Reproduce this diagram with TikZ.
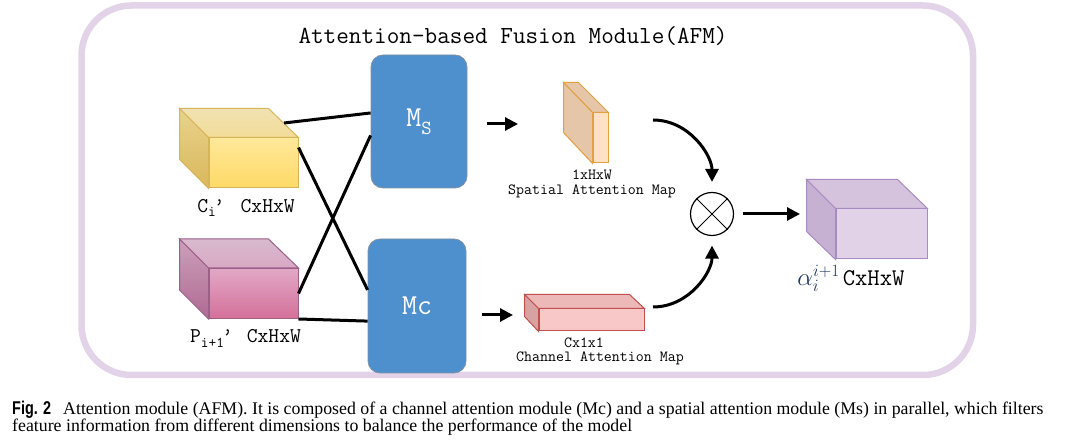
\documentclass[tikz,border=0pt]{standalone}
\usepackage{fontspec}
\usepackage{tikz}
\usetikzlibrary{arrows.meta,calc}
\setmainfont{Liberation Serif}
\newfontfamily\figfont[FakeStretch=0.78]{Liberation Sans}
\definecolor{framecol}{HTML}{E2D3E8}
\definecolor{modblue}{HTML}{4E8FCE}
\definecolor{modgray}{HTML}{8591A0}
\definecolor{yborder}{HTML}{D6B458}
\definecolor{ytop1}{HTML}{F0E2B2}
\definecolor{ytop2}{HTML}{F2DC98}
\definecolor{yfront1}{HTML}{FFE89A}
\definecolor{yfront2}{HTML}{FDD966}
\definecolor{yside1}{HTML}{EAD28E}
\definecolor{yside2}{HTML}{D9B85A}
\definecolor{pborder}{HTML}{9B5F88}
\definecolor{ptop1}{HTML}{D8BACE}
\definecolor{ptop2}{HTML}{D9A8C4}
\definecolor{pfront1}{HTML}{E2A8C6}
\definecolor{pfront2}{HTML}{D4709A}
\definecolor{pside1}{HTML}{CBA0BB}
\definecolor{pside2}{HTML}{B06A92}
\definecolor{sborder}{HTML}{E3A040}
\definecolor{sfront}{HTML}{FFE2C4}
\definecolor{sside}{HTML}{E6C6A8}
\definecolor{cborder}{HTML}{C0504D}
\definecolor{cfront}{HTML}{F8C8C8}
\definecolor{ctop}{HTML}{EDB8B8}
\definecolor{cside}{HTML}{D9A2A2}
\definecolor{oborder}{HTML}{A88BC0}
\definecolor{ofront}{HTML}{E2D2E8}
\definecolor{otop}{HTML}{D5C3DE}
\definecolor{oside}{HTML}{C6B1D2}
\definecolor{navy}{HTML}{203864}

\begin{document}
\begin{tikzpicture}[x=1pt, y=1pt,
    face/.style = {draw, line width=1pt, inner sep=0pt},
    module/.style = {draw=modgray, fill=modblue, rounded corners=12pt, line width=0.8pt, inner sep=0pt, text=white, font=\ttfamily\fontsize{29}{29}\selectfont},
    link/.style = {line width=3pt},
    arr/.style = {line width=3pt, -{Triangle[length=13pt,width=13pt]}},
    lab/.style = {inner sep=0pt, align=center, font=\ttfamily\fontsize{15.5}{14.5}\selectfont},
    biglab/.style = {inner sep=0pt, font=\ttfamily\fontsize{21}{21}\selectfont}]
    \useasboundingbox (0,0) rectangle (1068,447);
    \draw[framecol, line width=6.5pt, rounded corners=50pt] (81.5,72) rectangle (973,441.5);
    \node[inner sep=0pt, font=\ttfamily\fontsize{24.5}{24.5}\selectfont] (title) at (513,411) {Attention-based Fusion Module(AFM)};

    % input feature cubes
    \node[face, draw=yborder, top color=yfront1, bottom color=yfront2, minimum width=89pt, minimum height=50pt] (ci) at (253.5,284) {};
    \draw[face, draw=yborder, top color=ytop1, bottom color=ytop2] (ci.north west) -- ++(-29,29) -- ++(89,0) -- (ci.north east) -- cycle;
    \draw[face, draw=yborder, top color=yside1, bottom color=yside2] (ci.north west) -- ++(-29,29) -- ++(0,-51) -- (ci.south west) -- cycle;
    \node[biglab] (cilab) at (246,239) {C\raisebox{-4pt}{\fontsize{15}{15}\selectfont i}\hspace{-2pt}’\hspace{16pt}CxHxW};

    \node[face, draw=pborder, top color=pfront1, bottom color=pfront2, minimum width=89pt, minimum height=50pt] (pi) at (253.5,153.5) {};
    \draw[face, draw=pborder, top color=ptop1, bottom color=ptop2] (pi.north west) -- ++(-29,29) -- ++(89,0) -- (pi.north east) -- cycle;
    \draw[face, draw=pborder, top color=pside1, bottom color=pside2] (pi.north west) -- ++(-29,29) -- ++(0,-51) -- (pi.south west) -- cycle;
    \node[biglab] (pilab) at (245.5,109) {P\raisebox{-5pt}{\fontsize{15}{15}\selectfont i+1}\hspace{-2pt}’\hspace{14pt}CxHxW};

    % attention modules
    \node[module, minimum width=96pt, minimum height=133pt] (ms) at (419,325.5) {M\raisebox{-8pt}{\fontsize{20}{20}\selectfont S}};
    \node[module, minimum width=98pt, minimum height=134pt] (mc) at (417,141) {Mc};

    \draw[link] ($(ci.north east)+(-14.5,14.5)$) -- (ms.170);
    \draw[link] (ci.19) -- (mc.162);
    \draw[link] (pi.east) -- (ms.196);
    \draw[link] (pi.south east) -- (mc.197);

    % attention maps
    \coordinate (msout) at (487,323);
    \coordinate (smin) at (518,323);
    \coordinate (mcout) at (482,132);
    \coordinate (cmin) at (513,132);
    \draw[arr] (msout) -- (smin);
    \draw[arr] (mcout) -- (cmin);

    \node[face, draw=sborder, fill=sfront, minimum width=15pt, minimum height=50pt] (sm) at (600.5,309) {};
    \draw[face, draw=sborder, fill=sside] (sm.north west) -- ++(-29,30) -- ++(15,0) -- (sm.north east) -- cycle;
    \draw[face, draw=sborder, fill=sside] (sm.north west) -- ++(-29,30) -- ++(0,-50) -- (sm.south west) -- cycle;
    \node[lab] (smlab) at (592,263) {1xHxW\\Spatial Attention Map};

    \node[face, draw=cborder, fill=cfront, minimum width=105pt, minimum height=22pt] (cm) at (591.5,127) {};
    \draw[face, draw=cborder, fill=ctop] (cm.north west) -- ++(-14,14) -- ++(105,0) -- (cm.north east) -- cycle;
    \draw[face, draw=cborder, fill=cside] (cm.north west) -- ++(-14,14) -- ++(0,-22) -- (cm.south west) -- cycle;
    \node[lab] (cmlab) at (600,95.5) {Cx1x1\hspace*{32pt}\\Channel Attention Map};

    % fusion
    \node[draw, circle, line width=1.2pt, minimum size=43pt, inner sep=0pt] (mul) at (712,233) {};
    \draw[line width=1pt] (mul.north west) -- (mul.south east);
    \draw[line width=1pt] (mul.north east) -- (mul.south west);
    \coordinate (smout) at (653,327);
    \coordinate (cmout) at (653,140);
    \draw[arr, shorten >=10pt] (smout) to[out=0, in=90] (mul.north);
    \draw[arr, shorten >=9.5pt] (cmout) to[out=0, in=-90] (mul.south);

    % output cube
    \node[face, draw=oborder, fill=ofront, minimum width=91pt, minimum height=50pt] (out) at (881.5,213) {};
    \draw[face, draw=oborder, fill=otop] (out.north west) -- ++(-29,29) -- ++(91,0) -- (out.north east) -- cycle;
    \draw[face, draw=oborder, fill=oside] (out.north west) -- ++(-29,29) -- ++(0,-52) -- (out.south west) -- cycle;
    \coordinate (outin) at (800,233);
    \draw[arr, shorten <=8.5pt] (mul.east) -- (outin);
    \node[inner sep=0pt, font=\fontsize{26}{26}\selectfont] (outlab) at (851,169) {\textcolor{navy}{$\alpha_i^{i+1}$}\hspace{3pt}{\ttfamily\fontsize{24}{24}\selectfont CxHxW}};

    % caption
    \node[inner sep=0pt, anchor=base west, font=\fontsize{17.8}{17.8}\selectfont] (cap1) at (12,32) {{\figfont\fontsize{18.5}{18.5}\selectfont\bfseries Fig. 2}\hspace{12pt}Attention module (AFM). It is composed of a channel attention module (Mc) and a spatial attention module (Ms) in parallel, which filters};
    \node[inner sep=0pt, anchor=base west, font=\fontsize{17.8}{17.8}\selectfont] (cap2) at (12,15.3) {feature information from different dimensions to balance the performance of the model};
\end{tikzpicture}
\end{document}
